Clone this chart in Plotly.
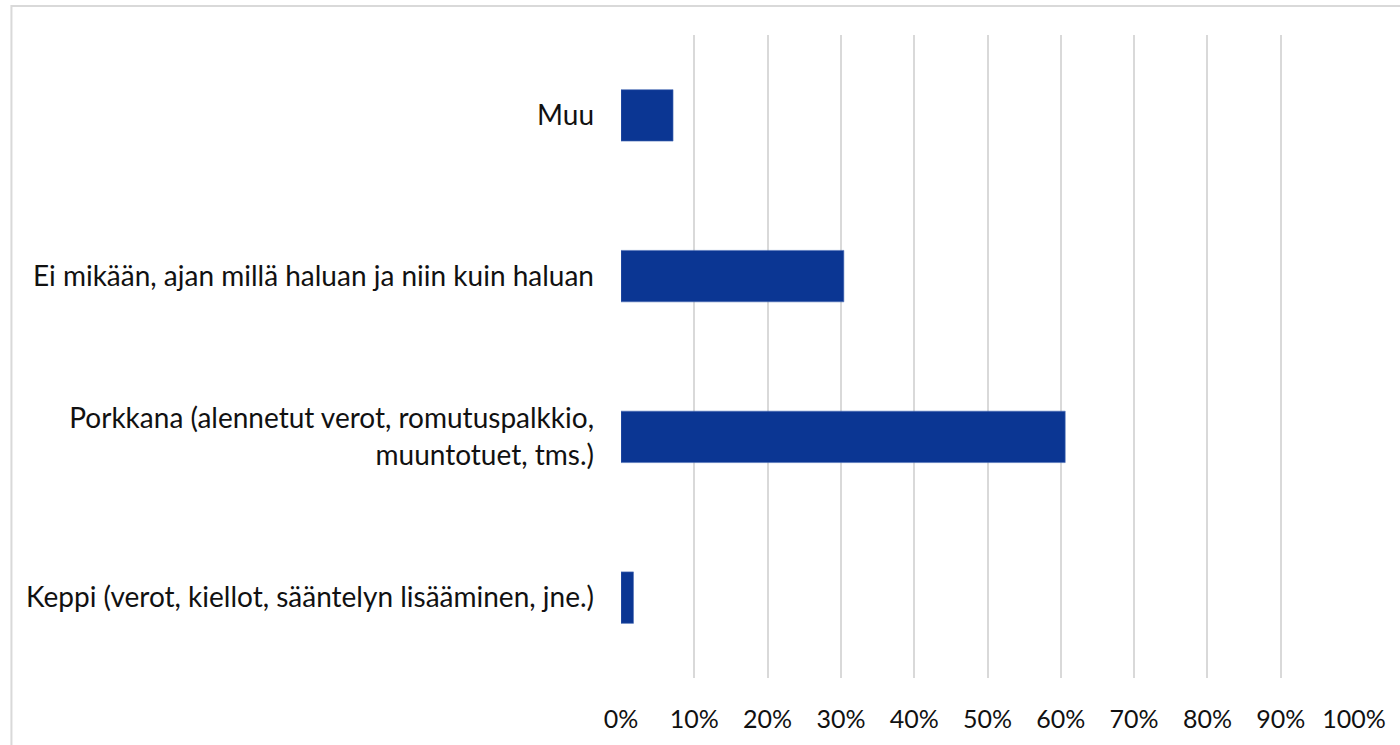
import plotly.graph_objects as go

categories = [
    "Keppi (verot, kiellot, sääntelyn lisääminen, jne.)",
    "Porkkana (alennetut verot, romutuspalkkio,<br>muuntotuet, tms.)",
    "Ei mikään, ajan millä haluan ja niin kuin haluan",
    "Muu",
]
values = [0.017, 0.606, 0.304, 0.071]
tick_vals = [i / 10 for i in range(11)]
tick_text = [f"{i * 10}%" for i in range(11)]

FONT = "Lato"
fig = go.Figure(go.Bar(
    y=categories, x=values, orientation="h",
    marker=dict(color="#0b3693", line=dict(color="#4a6bb5", width=0.6)),
    width=0.32,
))
fig.update_layout(
    width=1400, height=745,
    margin=dict(l=620.5, r=46, t=35, b=67),
    plot_bgcolor="white", paper_bgcolor="white",
    showlegend=False,
    font=dict(family=FONT, size=28, color="#111111"),
    shapes=[dict(type="rect", xref="paper", yref="paper",
                 x0=-0.8316, x1=1.2, y0=-0.3, y1=1.0451,
                 line=dict(color="#d9d9d9", width=2), layer="below")],
)
fig.update_xaxes(range=[0, 1], tickvals=tick_vals, ticktext=tick_text,
                 showgrid=True, gridcolor="#d9d9d9", gridwidth=2,
                 zeroline=False, showline=False, ticks="",
                 ticklabelstandoff=24, tickfont=dict(size=25))
fig.update_yaxes(showgrid=False, zeroline=False, showline=False, ticks="",
                 ticklabelstandoff=26, tickfont=dict(size=28))
fig.write_html("out.html", config={"displayModeBar": False},
               post_script="document.body.style.margin='0';")
